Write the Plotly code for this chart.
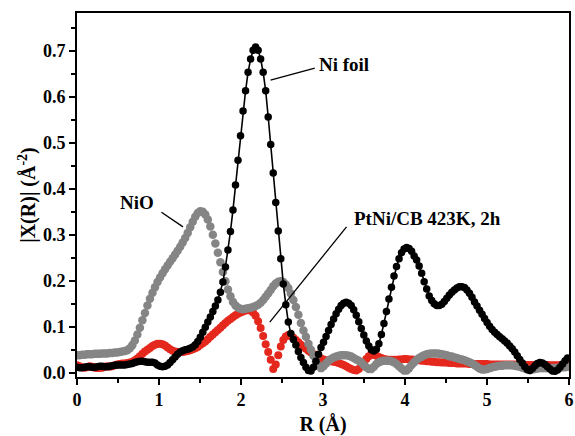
import numpy as np
import plotly.graph_objects as go

# Fourier-transform grid spacing in R (Å)
R_STEP = 0.03068

# |X(R)| magnitudes (Å^-2) on the R grid
pt_ni_cb = [
    0.016, 0.014, 0.012, 0.011, 0.012, 0.014, 0.013, 0.011, 0.010, 0.010,
    0.011, 0.013, 0.014, 0.013, 0.014, 0.016, 0.018, 0.019, 0.020, 0.020,
    0.021, 0.022, 0.024, 0.027, 0.031, 0.036, 0.041, 0.046, 0.050, 0.054,
    0.058, 0.061, 0.063, 0.063, 0.062, 0.059, 0.055, 0.051, 0.048, 0.046,
    0.045, 0.045, 0.045, 0.046, 0.047, 0.049, 0.051, 0.053, 0.056, 0.060,
    0.064, 0.068, 0.073, 0.078, 0.083, 0.088, 0.093, 0.098, 0.103, 0.108,
    0.113, 0.117, 0.121, 0.125, 0.128, 0.131, 0.133, 0.135, 0.136, 0.135,
    0.131, 0.124, 0.112, 0.097, 0.080, 0.062, 0.045, 0.028, 0.008, 0.018,
    0.038, 0.057, 0.071, 0.079, 0.082, 0.080, 0.076, 0.071, 0.066, 0.061,
    0.056, 0.052, 0.048, 0.044, 0.040, 0.036, 0.033, 0.031, 0.029, 0.027,
    0.026, 0.025, 0.024, 0.023, 0.021, 0.019, 0.017, 0.014, 0.011, 0.008,
    0.006, 0.005, 0.008, 0.014, 0.022, 0.030, 0.036, 0.039, 0.039, 0.037,
    0.034, 0.032, 0.030, 0.029, 0.028, 0.028, 0.028, 0.028, 0.029, 0.029,
    0.030, 0.030, 0.029, 0.029, 0.028, 0.027, 0.027, 0.026, 0.026, 0.025,
    0.025, 0.024, 0.024, 0.023, 0.023, 0.022, 0.022, 0.022, 0.021, 0.021,
    0.021, 0.020, 0.020, 0.020, 0.020, 0.020, 0.019, 0.019, 0.019, 0.019,
    0.019, 0.019, 0.019, 0.019, 0.018, 0.018, 0.018, 0.018, 0.018, 0.018,
    0.018, 0.018, 0.018, 0.018, 0.018, 0.017, 0.017, 0.017, 0.017, 0.017,
    0.017, 0.017, 0.017, 0.017, 0.017, 0.017, 0.017, 0.017, 0.016, 0.016,
    0.016, 0.016, 0.016, 0.016, 0.016, 0.016,
]

nio = [
    0.038, 0.038, 0.039, 0.039, 0.040, 0.040, 0.040, 0.041, 0.041, 0.041,
    0.042, 0.042, 0.042, 0.043, 0.043, 0.044, 0.044, 0.045, 0.046, 0.047,
    0.049, 0.053, 0.060, 0.070, 0.083, 0.098, 0.114, 0.130, 0.146, 0.161,
    0.174, 0.186, 0.197, 0.207, 0.216, 0.225, 0.233, 0.241, 0.249, 0.257,
    0.265, 0.274, 0.283, 0.293, 0.304, 0.316, 0.328, 0.339, 0.347, 0.351,
    0.350, 0.344, 0.333, 0.318, 0.300, 0.281, 0.261, 0.240, 0.219, 0.199,
    0.181, 0.166, 0.154, 0.146, 0.141, 0.139, 0.138, 0.139, 0.140, 0.141,
    0.143, 0.145, 0.148, 0.152, 0.158, 0.165, 0.172, 0.180, 0.188, 0.194,
    0.198, 0.199, 0.197, 0.192, 0.184, 0.172, 0.158, 0.143, 0.126, 0.108,
    0.092, 0.078, 0.063, 0.050, 0.037, 0.025, 0.015, 0.010, 0.014, 0.020,
    0.026, 0.030, 0.033, 0.035, 0.037, 0.038, 0.038, 0.038, 0.037, 0.035,
    0.032, 0.029, 0.026, 0.022, 0.017, 0.012, 0.008, 0.008, 0.013, 0.019,
    0.023, 0.025, 0.026, 0.026, 0.026, 0.025, 0.023, 0.019, 0.014, 0.009,
    0.005, 0.005, 0.010, 0.017, 0.023, 0.028, 0.032, 0.035, 0.038, 0.040,
    0.041, 0.042, 0.042, 0.042, 0.041, 0.040, 0.039, 0.038, 0.036, 0.035,
    0.033, 0.032, 0.030, 0.029, 0.027, 0.025, 0.023, 0.020, 0.017, 0.013,
    0.009, 0.007, 0.007, 0.008, 0.010, 0.012, 0.013, 0.014, 0.015, 0.015,
    0.016, 0.016, 0.016, 0.016, 0.015, 0.014, 0.013, 0.011, 0.009, 0.007,
    0.006, 0.007, 0.008, 0.009, 0.010, 0.010, 0.010, 0.010, 0.010, 0.010,
    0.010, 0.011, 0.011, 0.012, 0.012, 0.013,
]

ni_foil = [
    0.012, 0.011, 0.011, 0.012, 0.013, 0.013, 0.012, 0.012, 0.013, 0.014,
    0.014, 0.013, 0.013, 0.014, 0.015, 0.016, 0.017, 0.017, 0.017, 0.017,
    0.018, 0.019, 0.020, 0.022, 0.024, 0.025, 0.025, 0.024, 0.023, 0.023,
    0.023, 0.021, 0.017, 0.014, 0.013, 0.014, 0.017, 0.022, 0.028, 0.034,
    0.040, 0.045, 0.048, 0.050, 0.051, 0.053, 0.056, 0.061, 0.068, 0.077,
    0.088, 0.099, 0.110, 0.121, 0.133, 0.145, 0.158, 0.175, 0.197, 0.230,
    0.267, 0.307, 0.354, 0.408, 0.462, 0.515, 0.569, 0.613, 0.653, 0.682,
    0.701, 0.708, 0.701, 0.682, 0.653, 0.613, 0.556, 0.496, 0.434, 0.370,
    0.308, 0.248, 0.193, 0.148, 0.110, 0.085, 0.072, 0.060, 0.046, 0.033,
    0.022, 0.012, 0.005, 0.004, 0.012, 0.025, 0.040, 0.055, 0.066, 0.079,
    0.092, 0.105, 0.117, 0.128, 0.138, 0.146, 0.151, 0.153, 0.151, 0.146,
    0.137, 0.125, 0.111, 0.096, 0.082, 0.069, 0.058, 0.050, 0.047, 0.051,
    0.063, 0.083, 0.107, 0.133, 0.160, 0.186, 0.210, 0.231, 0.248, 0.261,
    0.269, 0.272, 0.270, 0.264, 0.254, 0.245, 0.232, 0.216, 0.198, 0.182,
    0.167, 0.157, 0.150, 0.146, 0.146, 0.149, 0.155, 0.162, 0.169, 0.175,
    0.180, 0.184, 0.187, 0.187, 0.185, 0.180, 0.173, 0.164, 0.154, 0.145,
    0.136, 0.127, 0.118, 0.109, 0.101, 0.094, 0.088, 0.083, 0.078, 0.074,
    0.069, 0.064, 0.058, 0.052, 0.045, 0.037, 0.029, 0.021, 0.013, 0.007,
    0.005, 0.009, 0.015, 0.020, 0.022, 0.021, 0.018, 0.013, 0.008, 0.004,
    0.003, 0.006, 0.012, 0.019, 0.026, 0.032,
]

x_ticks = [0, 1, 2, 3, 4, 5, 6]
y_ticks = [0.0, 0.1, 0.2, 0.3, 0.4, 0.5, 0.6, 0.7]

FONT = "Liberation Serif"
RED = "#E5281D"
GRAY = "#858585"


def r_grid(values):
    return R_STEP * np.arange(len(values))


fig = go.Figure()

fig.add_trace(go.Scatter(
    x=r_grid(pt_ni_cb), y=pt_ni_cb, mode="markers", name="PtNi/CB 423K, 2h",
    marker=dict(color=RED, size=8, line=dict(width=0)),
))
fig.add_trace(go.Scatter(
    x=r_grid(nio), y=nio, mode="markers", name="NiO",
    marker=dict(color=GRAY, size=8.5, line=dict(width=0)),
))
fig.add_trace(go.Scatter(
    x=r_grid(ni_foil), y=ni_foil, mode="lines+markers", name="Ni foil",
    line=dict(color="black", width=1.6),
    marker=dict(color="black", size=7.5, line=dict(width=0)),
))

axis_common = dict(
    showline=True, linecolor="black", linewidth=1.6, mirror=True,
    ticks="outside", tickwidth=1.5, tickcolor="black",
    showgrid=False, zeroline=False, automargin=False,
    tickfont=dict(family=FONT, size=18, color="black", weight="bold"),
    title_font=dict(family=FONT, size=20, color="black", weight="bold"),
)

fig.update_xaxes(
    range=[0, 6], tickvals=x_ticks, ticklen=6,
    minor=dict(ticks="outside", dtick=0.5, ticklen=4, tickwidth=1.5, tickcolor="black"),
    title_text="R (Å)", title_standoff=8,
    **axis_common,
)
fig.update_yaxes(
    range=[-0.0093, 0.782], tickvals=y_ticks, tickformat=".1f", ticklen=6,
    minor=dict(ticks="outside", dtick=0.05, ticklen=4, tickwidth=1.5, tickcolor="black"),
    title_text="|X(R)| (Å<sup>-2</sup>)", title_standoff=2,
    **axis_common,
)

label_font = dict(family=FONT, size=19, color="black", weight="bold")

# Series labels with leader lines
labels = [
    ("Ni foil", 3.254, 0.669, (2.36, 0.636), (2.90, 0.662)),
    ("NiO", 0.735, 0.369, (1.03, 0.349), (1.293, 0.317)),
    ("PtNi/CB 423K, 2h", 4.28, 0.336, (3.287, 0.317), (2.351, 0.110)),
]
for text, tx, ty, p0, p1 in labels:
    fig.add_annotation(x=tx, y=ty, text=text, showarrow=False, font=label_font,
                       xanchor="center", yanchor="middle")
    fig.add_shape(type="line", x0=p0[0], y0=p0[1], x1=p1[0], y1=p1[1],
                  line=dict(color="black", width=1.3))

fig.update_layout(
    width=575, height=436,
    margin=dict(l=77, r=6, t=13, b=59),
    plot_bgcolor="white", paper_bgcolor="white",
    showlegend=False,
)

fig.write_html("out.html")
